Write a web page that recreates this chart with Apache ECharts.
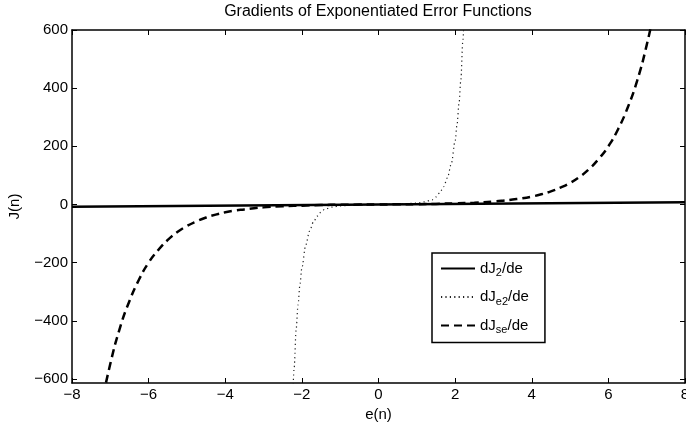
<!DOCTYPE html>
<html>
<head>
<meta charset="utf-8">
<script src="https://cdn.jsdelivr.net/npm/echarts@6/dist/echarts.min.js"></script>
<style>
  html, body { margin: 0; padding: 0; background: #fff; }
  #chart { width: 686px; height: 425px; }
</style>
</head>
<body>
<div id="chart"></div>
<script>
// values
const seriesNames = ["dJ2/de", "dJe2/de", "dJse/de"];

const eSolid = [-8, 0, 8];
const jSolid = [-8, 0, 8];

const eDotted = [-2.25, -2.2, -2.15, -2.1, -2.05, -2, -1.9, -1.8, -1.7, -1.6, -1.5, -1.4, -1.2, -1, -0.6, 0,
  0.6, 1, 1.2, 1.4, 1.5, 1.6, 1.7, 1.8, 1.9, 2, 2.05, 2.1, 2.15, 2.2, 2.25];
const jDotted = [-710, -560, -430, -345, -275, -218, -140, -92, -61, -40, -26, -16, -9, -5, -2, 0,
  2, 5, 9, 16, 26, 40, 61, 92, 140, 218, 275, 345, 430, 560, 710];

const eDashed = [-7.25, -7, -6.75, -6.5, -6.25, -6, -5.75, -5.5, -5.25, -5, -4.75, -4.5, -4.25, -4, -3.75, -3.5, -3.25, -3,
  -2.5, -2, -1.5, -1, -0.5, 0, 0.5, 1, 1.5, 2, 2.5,
  3, 3.25, 3.5, 3.75, 4, 4.25, 4.5, 4.75, 5, 5.25, 5.5, 5.75, 6, 6.25, 6.5, 6.75, 7, 7.25];
const jDashed = [-700, -548, -425, -332, -258, -200, -157, -122, -95, -74, -58, -45, -35, -27, -21, -17, -13, -10,
  -6, -4, -2, -1, -0.5, 0, 0.5, 1, 2, 4, 6,
  10, 13, 17, 21, 27, 35, 45, 58, 74, 95, 122, 157, 200, 258, 332, 425, 548, 700];

const yTicks = [-600, -400, -200, 0, 200, 400, 600];

const legendRich = {
  "dJ2/de": "{m|dJ}{s|2}{m|/de}",
  "dJe2/de": "{m|dJ}{s|e2}{m|/de}",
  "dJse/de": "{m|dJ}{s|se}{m|/de}",
};

const FONT = "Liberation Sans, Arial, Helvetica, sans-serif";
const zip = (xs, ys) => xs.map((x, i) => [x, ys[i]]);
const minus = (v) => (v < 0 ? "\u2212" + Math.abs(v) : String(v));

const chart = echarts.init(document.getElementById("chart"), null, { renderer: "canvas" });

const frameLine = { show: true, onZero: false, lineStyle: { color: "#000", width: 1.5 } };
const tickIn = { show: true, inside: true, length: 5, lineStyle: { color: "#000", width: 1 } };

const option = {
  animation: false,
  backgroundColor: "#fff",
  textStyle: { fontFamily: FONT },
  title: {
    text: "Gradients of Exponentiated Error Functions",
    left: 378,
    textAlign: "center",
    top: 4,
    padding: 0,
    textStyle: { fontFamily: FONT, fontSize: 16, fontWeight: "normal", color: "#000" },
  },
  grid: { left: 72, right: 1, top: 30, bottom: 42, containLabel: false, outerBoundsMode: "none" },
  legend: {
    orient: "vertical",
    left: 432,
    top: 253,
    padding: [8, 16, 7, 8],
    itemWidth: 34,
    itemHeight: 14,
    itemGap: 11,
    backgroundColor: "#fff",
    borderColor: "#000",
    borderWidth: 1.5,
    data: seriesNames,
    itemStyle: { opacity: 0 },
    formatter: (name) => legendRich[name],
    textStyle: {
      fontFamily: FONT,
      color: "#000",
      rich: {
        m: { fontFamily: FONT, fontSize: 15, lineHeight: 20, color: "#000" },
        s: { fontFamily: FONT, fontSize: 11, lineHeight: 10, verticalAlign: "bottom", color: "#000" },
      },
    },
  },
  xAxis: [
    {
      type: "value",
      min: -8,
      max: 8,
      interval: 2,
      name: "e(n)",
      nameLocation: "middle",
      nameGap: 16,
      nameTextStyle: { fontFamily: FONT, fontSize: 15, color: "#000" },
      axisLine: frameLine,
      axisTick: tickIn,
      splitLine: { show: false },
      axisLabel: {
        margin: 4,
        fontFamily: FONT,
        fontSize: 15,
        color: "#000",
        formatter: minus,
        showMinLabel: true,
        showMaxLabel: true,
      },
    },
    {
      type: "value",
      position: "top",
      min: -8,
      max: 8,
      interval: 2,
      axisLine: frameLine,
      axisTick: tickIn,
      splitLine: { show: false },
      axisLabel: { show: false },
    },
  ],
  yAxis: [
    {
      type: "value",
      min: -614,
      max: 600,
      name: "J(n)",
      nameLocation: "middle",
      nameGap: 50,
      nameTextStyle: { fontFamily: FONT, fontSize: 15, color: "#000" },
      axisLine: frameLine,
      axisTick: Object.assign({}, tickIn, { customValues: yTicks }),
      splitLine: { show: false },
      axisLabel: {
        margin: 4,
        fontFamily: FONT,
        fontSize: 15,
        color: "#000",
        formatter: minus,
        customValues: yTicks,
      },
    },
    {
      type: "value",
      position: "right",
      min: -614,
      max: 600,
      axisLine: frameLine,
      axisTick: Object.assign({}, tickIn, { customValues: yTicks }),
      splitLine: { show: false },
      axisLabel: { show: false },
    },
  ],
  series: [
    {
      name: seriesNames[0],
      type: "line",
      data: zip(eSolid, jSolid),
      symbol: "none",
      lineStyle: { color: "#000", width: 2.5, type: "solid" },
      itemStyle: { color: "#000" },
      z: 3,
    },
    {
      name: seriesNames[1],
      type: "line",
      data: zip(eDotted, jDotted),
      symbol: "none",
      smooth: 0.3,
      smoothMonotone: "x",
      lineStyle: { color: "#222", width: 1.2, type: [1.2, 3.2] },
      itemStyle: { color: "#222" },
      z: 2,
    },
    {
      name: seriesNames[2],
      type: "line",
      data: zip(eDashed, jDashed),
      symbol: "none",
      smooth: 0.5,
      lineStyle: { color: "#000", width: 2.5, type: [8, 5] },
      itemStyle: { color: "#000" },
      z: 2,
    },
  ],
};

chart.setOption(option);
</script>
</body>
</html>
